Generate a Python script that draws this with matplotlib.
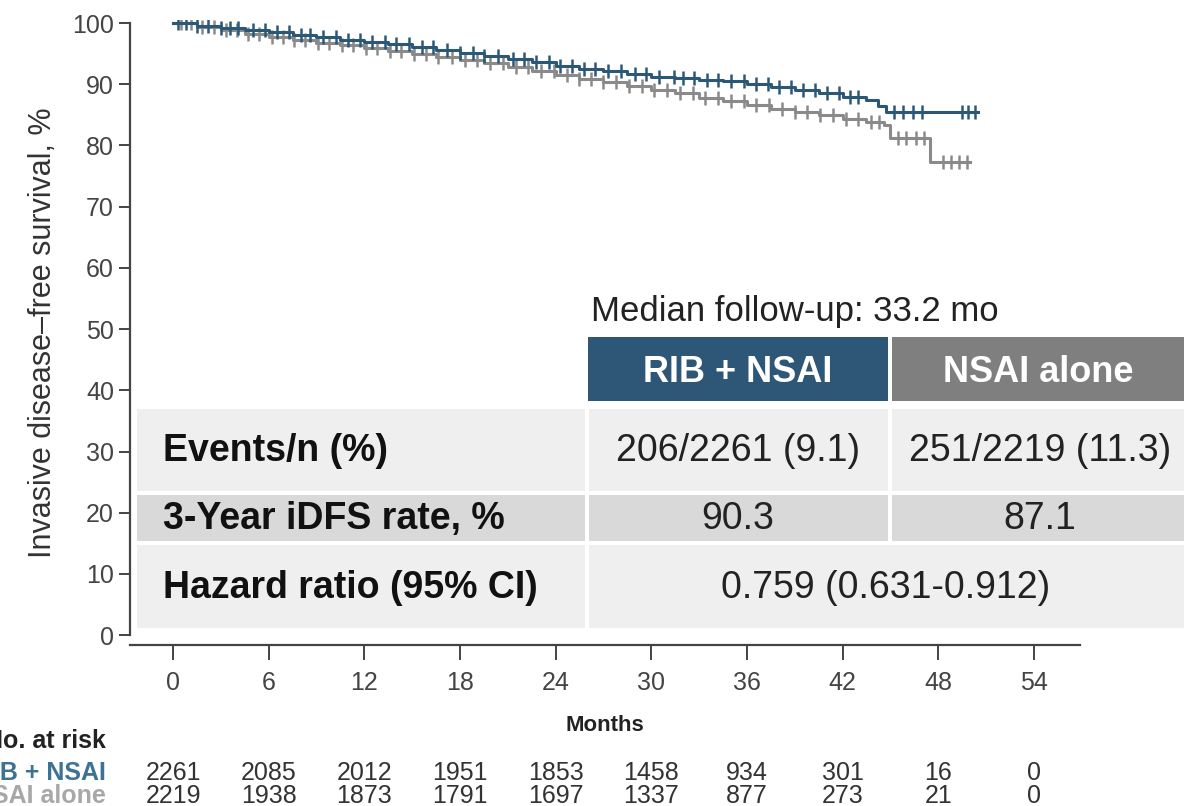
import numpy as np
import matplotlib
matplotlib.use('Agg')
import matplotlib.pyplot as plt
from matplotlib.patches import Rectangle
from matplotlib.transforms import blended_transform_factory

plt.rcParams['font.family'] = ['Liberation Sans', 'DejaVu Sans']

# survival steps (months, %)
rib_months = [0, 1.5, 3, 4.5, 6, 7.5, 9, 10.5, 12, 13.5, 15, 16.5, 18, 19.5, 21, 22.5,
              24, 25.5, 27, 28.5, 30, 31.5, 33, 34.5, 36, 37.5, 39, 40.5, 42, 43.5, 44.2, 44.7]
rib_surv = [100, 99.6, 99.2, 98.9, 98.5, 98.1, 97.7, 97.3, 96.9, 96.5, 96.1, 95.6, 95.1, 94.7, 94.2, 93.6,
            93.0, 92.5, 92.1, 91.6, 91.2, 91.0, 90.7, 90.5, 90.0, 89.5, 89.0, 88.5, 88.0, 87.4, 86.5, 85.5]
rib_end = 50.5

nsai_months = [0, 1.5, 3, 4.5, 6, 7.5, 9, 10.5, 12, 13.5, 15, 16.5, 18, 19.5, 21, 22.5,
               24, 25.5, 27, 28.5, 30, 31.5, 33, 34.5, 36, 37.5, 39, 40.5, 42, 43.5, 44.6, 45.0, 47.5]
nsai_surv = [100, 99.4, 98.8, 98.2, 97.7, 97.2, 96.8, 96.4, 96.0, 95.5, 95.0, 94.5, 94.0, 93.4, 92.8, 92.1,
             91.5, 90.9, 90.3, 89.7, 89.1, 88.5, 87.8, 87.2, 86.6, 86.0, 85.5, 84.9, 84.3, 83.8, 83.3, 81.2, 77.3]
nsai_end = 50.0

# censoring times (tick marks)
rib_censor = [0.3, 0.8, 1.5, 2.2, 3.0, 3.6, 4.1, 5.0, 5.8, 6.5, 7.3, 8.0, 8.6, 9.4, 10.2, 11.0,
              11.7, 12.5, 13.3, 14.0, 14.8, 15.6, 16.3, 17.2, 18.0, 18.8, 19.5, 20.4, 21.3, 22.0,
              22.8, 23.6, 24.3, 25.0, 25.8, 26.5, 27.3, 28.1, 29.0, 29.7, 30.5, 31.4, 32.0, 32.7,
              33.5, 34.2, 35.0, 35.8, 36.6, 37.3, 38.0, 38.8, 39.5, 40.3, 41.0, 41.8, 42.5, 43.0,
              45.2, 45.8, 46.4, 47.0, 49.5, 49.9, 50.3]
nsai_censor = [0.5, 1.1, 1.8, 2.6, 3.3, 4.0, 4.7, 5.4, 6.2, 6.9, 7.6, 8.3, 9.1, 9.8, 10.6, 11.3,
               12.1, 12.8, 13.6, 14.3, 15.1, 15.9, 16.6, 17.5, 18.3, 19.1, 19.9, 20.7, 21.5, 22.3,
               23.1, 23.9, 24.7, 25.5, 26.2, 27.0, 27.8, 28.6, 29.4, 30.2, 31.0, 31.8, 32.6, 33.4,
               34.2, 35.0, 35.8, 36.6, 37.4, 38.2, 39.0, 39.8, 40.6, 41.4, 42.2, 43.0, 43.8, 44.3,
               45.5, 46.0, 46.6, 47.1, 48.3, 48.8, 49.3, 49.8]

x_ticks = [0, 6, 12, 18, 24, 30, 36, 42, 48, 54]
rib_at_risk = [2261, 2085, 2012, 1951, 1853, 1458, 934, 301, 16, 0]
nsai_at_risk = [2219, 1938, 1873, 1791, 1697, 1337, 877, 273, 21, 0]

row_labels = ["Events/n (%)", "3-Year iDFS rate, %", "Hazard ratio (95% CI)"]
rib_values = ["206/2261 (9.1)", "90.3"]
nsai_values = ["251/2219 (11.3)", "87.1"]
hazard_ratio = "0.759 (0.631-0.912)"
follow_up = "Median follow-up: 33.2 mo"

BLUE = '#2c5878'
GRAY = '#8a8a8a'
W, H = 1184, 806


def km_draw(ax, t, s, end, censor, color):
    tt = list(t) + [end]
    ss = list(s) + [s[-1]]
    ax.step(tt, ss, where='post', color=color, lw=2.2, zorder=3)
    idx = np.searchsorted(t, censor, side='right') - 1
    cy = np.array(s)[idx]
    ax.plot(censor, cy, ls='none', marker='|', ms=10, mew=1.8, color=color, zorder=3)


fig = plt.figure(figsize=(W / 100, H / 100), dpi=100)
ax = fig.add_axes([130 / W, 1 - 645 / H, (1080 - 130) / W, (645 - 20) / H])
ax.patch.set_alpha(0)

km_draw(ax, nsai_months, nsai_surv, nsai_end, nsai_censor, GRAY)
km_draw(ax, rib_months, rib_surv, rib_end, rib_censor, BLUE)

ax.set_xlim(-2.7, 56.9)
ax.set_ylim(-1.6, 100.5)
ax.spines['top'].set_visible(False)
ax.spines['right'].set_visible(False)
ax.spines['left'].set_bounds(0, 100)
for sp in ('left', 'bottom'):
    ax.spines[sp].set_color('#444444')
    ax.spines[sp].set_linewidth(1.6)
ax.set_yticks(range(0, 101, 10))
ax.set_xticks(x_ticks)
ax.tick_params(axis='both', colors='#444444', labelcolor='#444444', length=8, width=1.4,
               labelsize=18)
ax.tick_params(axis='x', length=11, pad=8)
ax.set_ylabel("Invasive disease\u2013free survival, %", fontsize=22, color='#333333', labelpad=10)
ax.set_xlabel("Months", fontsize=16, fontweight='bold', color='#222222', labelpad=14)

# at-risk table below the axis
tr = blended_transform_factory(ax.transData, fig.transFigure)
fig.text(106 / W, 1 - 741 / H, "No. at risk", ha='right', va='center', fontsize=18,
         fontweight='bold', color='#222222')
fig.text(106 / W, 1 - 773 / H, "RIB + NSAI", ha='right', va='center', fontsize=18,
         fontweight='bold', color='#3d7295')
fig.text(106 / W, 1 - 796 / H, "NSAI alone", ha='right', va='center', fontsize=18,
         fontweight='bold', color='#a8a8a8')
for x, a, b in zip(x_ticks, rib_at_risk, nsai_at_risk):
    ax.text(x, 1 - 773 / H, str(a), transform=tr, ha='center', va='center', fontsize=18,
            color='#333333')
    ax.text(x, 1 - 796 / H, str(b), transform=tr, ha='center', va='center', fontsize=18,
            color='#333333')


# summary table overlay (pixel layout)
def box(x0, y0, x1, y1, color):
    fig.add_artist(Rectangle((x0 / W, 1 - y1 / H), (x1 - x0) / W, (y1 - y0) / H,
                             transform=fig.transFigure, facecolor=color, edgecolor='none',
                             zorder=2))


def txt(x, y, s, **kw):
    fig.text(x / W, 1 - y / H, s, va='center', zorder=4, **kw)


txt(591, 311, follow_up, fontsize=25, color='#222222')
box(588, 337, 888, 401, '#2e5676')
box(892, 337, 1184, 401, '#7f7f7f')
txt(738, 372, "RIB + NSAI", ha='center', fontsize=26, fontweight='bold', color='white')
txt(1038, 372, "NSAI alone", ha='center', fontsize=26, fontweight='bold', color='white')

row_y = [(409, 491), (495, 541), (545, 628)]
row_c = ['#efefef', '#d9d9d9', '#efefef']
for (y0, y1), c in zip(row_y, row_c):
    box(137, y0, 1184, y1, c)
for (y0, y1) in row_y[:2]:
    box(585, y0, 589, y1, 'white')
    box(888, y0, 892, y1, 'white')
box(585, row_y[2][0], 589, row_y[2][1], 'white')

for (y0, y1), lab in zip(row_y, row_labels):
    txt(163, (y0 + y1) / 2 + 1, lab, fontsize=27, fontweight='bold', color='#111111')
for (y0, y1), a, b in zip(row_y[:2], rib_values, nsai_values):
    txt(738, (y0 + y1) / 2 + 1, a, ha='center', fontsize=27, color='#222222')
    txt(1040, (y0 + y1) / 2 + 1, b, ha='center', fontsize=27, color='#222222')
txt(886, (row_y[2][0] + row_y[2][1]) / 2 + 1, hazard_ratio, ha='center', fontsize=27,
    color='#222222')

fig.savefig('out.png', dpi=100)
